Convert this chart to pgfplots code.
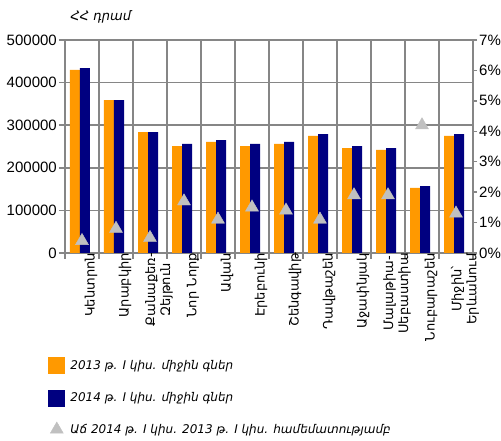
\documentclass[border=0pt]{standalone}
\usepackage{fontspec}
\setmainfont{Liberation Sans}
\newfontfamily\arm{DejaVu Sans}
\usepackage{pgfplots}
\pgfplotsset{compat=1.18}
\definecolor{cOr}{RGB}{255,153,0}
\definecolor{cBl}{RGB}{0,0,128}
\definecolor{cTr}{RGB}{192,192,192}
\definecolor{cGr}{RGB}{134,134,134}
\begin{document}
\begin{tikzpicture}
\useasboundingbox (-65pt,-188pt) rectangle (436pt,253pt);
\begin{axis}[
  at={(0pt,0pt)}, anchor=south west,
  scale only axis, width=408pt, height=213pt,
  xmin=-0.5, xmax=11.5, ymin=0, ymax=500000,
  ytick={0,100000,200000,300000,400000,500000},
  scaled y ticks=false,
  /pgf/number format/fixed,
  /pgf/number format/assume math mode=true,
  /pgf/number format/set thousands separator={},
  ymajorgrids, xmajorgrids,
  major grid style={cGr, line width=1.5pt},
  axis line style={cGr, line width=1.5pt},
  tick style={cGr, line width=1.5pt},
  tick align=outside, major tick length=6pt,
  ytick pos=left, xtick pos=bottom,
  xtick={-0.5,0.5,...,11.5}, xticklabels={,,,,,,,,,,,,,},
  extra x ticks={0,1,2,3,4,5,6,7,8,9,10,11},
  extra x tick style={major tick length=0pt, grid=none},
  extra x tick labels={Կենտրոն, Արաբկիր, {Քանաքեռ-\\Զեյթուն}, Նոր Նորք, Ավան, Էրեբունի, Շենգավիթ, Դավթաշեն, Աջափնյակ, {Մալաթիա-\\Սեբաստիա}, Նուբարաշեն, {Միջին՝\\Երևանում}},
  x tick label style={rotate=90, anchor=east, align=center, inner sep=0pt, yshift=-9pt, font=\arm\fontsize{13}{15}\selectfont},
  y tick label style={font=\fontsize{15}{17}\selectfont, inner sep=2pt},
]
\addplot[ybar, bar width=10pt, bar shift=-7pt, fill=cOr, draw=none] coordinates {
(0,430000) (1,359000) (2,284000) (3,251000) (4,261000) (5,251000) (6,256000) (7,275000) (8,246000) (9,242000) (10,153000) (11,275000)};
\addplot[ybar, bar width=10pt, bar shift=3pt, fill=cBl, draw=none] coordinates {
(0,434000) (1,359000) (2,284000) (3,256000) (4,265000) (5,256000) (6,261000) (7,279000) (8,251000) (9,246000) (10,157000) (11,279000)};
\end{axis}
\begin{axis}[
  at={(0pt,0pt)}, anchor=south west,
  scale only axis, width=408pt, height=213pt,
  xmin=-0.5, xmax=11.5, ymin=0, ymax=7,
  axis x line=none, axis y line*=right,
  ytick={0,1,2,3,4,5,6,7},
  /pgf/number format/fixed,
  /pgf/number format/assume math mode=true,
  yticklabel={\pgfmathprintnumber{\tick}\%},
  axis line style={cGr, line width=1.5pt},
  tick style={cGr, line width=1.5pt},
  tick align=outside, major tick length=4pt,
  y tick label style={font=\fontsize{15}{17}\selectfont, inner sep=2pt},
  legend style={draw=none, fill=none, at={(-0.042,-0.488)}, anchor=north west,
    inner sep=0pt, row sep=16pt, column sep=6pt,
    nodes={inner sep=0pt},
    font=\arm\itshape\fontsize{12}{14}\selectfont},
  legend cell align=left,
]
\addlegendimage{legend image code/.code={\fill[cOr] (0pt,-8pt) rectangle (16pt,8pt);}}
\addlegendentry{2013 թ. I կիս. միջին գներ}
\addlegendimage{legend image code/.code={\fill[cBl] (0pt,-8pt) rectangle (16pt,8pt);}}
\addlegendentry{2014 թ. I կիս. միջին գներ}
\addplot[only marks, mark=triangle*, mark size=7.5pt, mark options={fill=cTr, draw=cTr}] coordinates {
(0,0.4) (1,0.8) (2,0.5) (3,1.7) (4,1.1) (5,1.5) (6,1.4) (7,1.1) (8,1.9) (9,1.9) (10,4.2) (11,1.3)};
\addlegendentry{Աճ 2014 թ. I կիս. 2013 թ. I կիս. համեմատությամբ}
\end{axis}
\node[anchor=base west, font=\arm\itshape\fontsize{13}{15}\selectfont] at (2pt,232pt) {ՀՀ դրամ};
\end{tikzpicture}
\end{document}
